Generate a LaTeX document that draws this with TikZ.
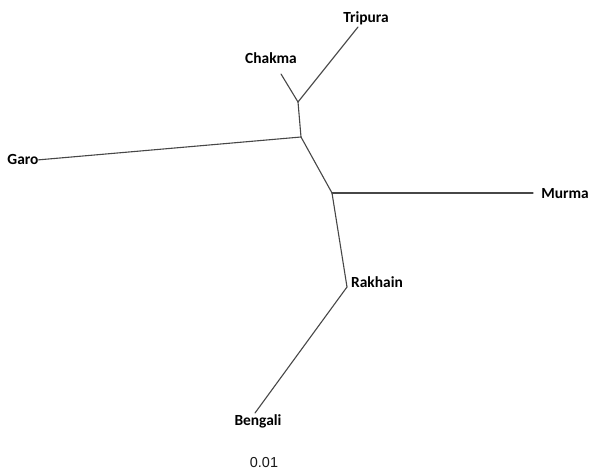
\documentclass[tikz,border=0pt]{standalone}
\usepackage{fontspec}
\newfontfamily\taxonfont{Carlito}
\newfontfamily\barlabelfont{Liberation Sans}
\begin{document}
\begin{tikzpicture}[x=1bp,y=-1bp,
  branch/.style={draw=black!72,line width=1.1bp,line cap=round,line join=round},
  taxon/.style={inner sep=0pt,anchor=base,font=\taxonfont\bfseries\fontsize{15.5}{18}\selectfont,text=black},
  scaletext/.style={inner sep=0pt,anchor=base,font=\barlabelfont\fontsize{14.5}{17}\selectfont,text=black!90}]
\useasboundingbox (0,0) rectangle (590,472);
\fill[white] (0,0) rectangle (590,472);

% internal nodes of the unrooted tree
\coordinate (nA) at (298,102);
\coordinate (nB) at (301,137);
\coordinate (nC) at (332,193);
\coordinate (nD) at (347,287);

% leaf tips
\coordinate (tTripura) at (358,27);
\coordinate (tChakma) at (281,74);
\coordinate (tGaro) at (37,160);
\coordinate (tMurma) at (533,193);
\coordinate (tBengali) at (255,413);

% taxon labels
\node[taxon] (lTripura) at (366,23) {Tripura};
\node[taxon] (lChakma) at (271,64) {Chakma};
\node[taxon] (lGaro) at (23,165) {Garo};
\node[taxon] (lMurma) at (565,199) {Murma};
\node[taxon] (lRakhain) at (377,288) {Rakhain};
\node[taxon] (lBengali) at (258,425) {Bengali};

% scale label
\node[scaletext] (lScale) at (264,467) {0.01};

% branches
\draw[branch] (nA) -- (tTripura);
\draw[branch] (nA) -- (tChakma);
\draw[branch] (nA) -- (nB);
\draw[branch] (nB) -- (tGaro);
\draw[branch] (nB) -- (nC);
\draw[branch] (nC) -- (tMurma);
\draw[branch] (nC) -- (nD);
\draw[branch] (nD) -- (tBengali);
\end{tikzpicture}
\end{document}
